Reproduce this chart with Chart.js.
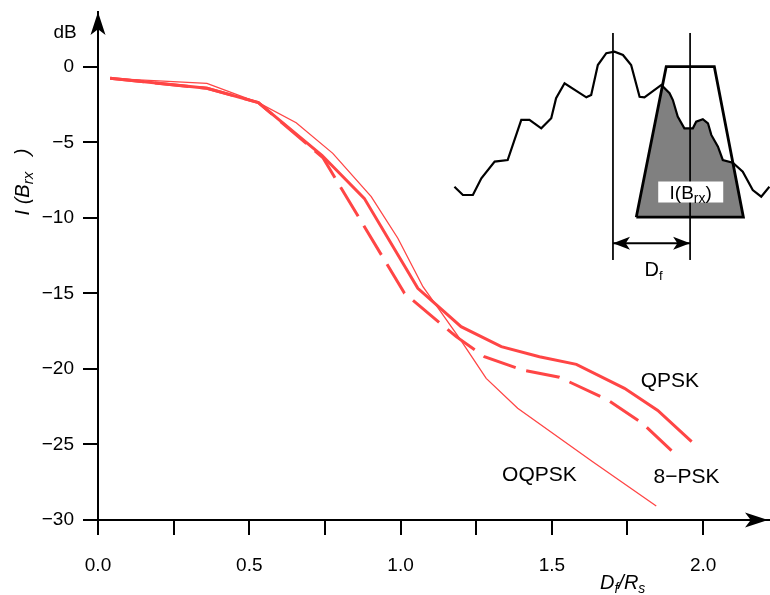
<!DOCTYPE html>
<html>
<head>
<meta charset="utf-8">
<script src="https://cdn.jsdelivr.net/npm/chart.js@4.4.1/dist/chart.umd.min.js"></script>
<style>
  html, body { margin: 0; padding: 0; background: #fff; }
  #wrap { width: 770px; height: 595px; position: relative; }
</style>
</head>
<body>
<div id="wrap"><canvas id="chart"></canvas></div>
<script>
// Interference level I(Brx) in dB against carrier spacing Df/Rs
const qpskX = [0.04, 0.36, 0.53, 0.74, 0.88, 1.057, 1.20, 1.333, 1.459, 1.581, 1.74, 1.85, 1.962];
const qpskY = [-0.75, -1.41, -2.36, -5.85, -8.7, -14.66, -17.2, -18.52, -19.19, -19.69, -21.28, -22.75, -24.81];
const psk8X = [0.04, 0.36, 0.53, 0.743, 1.013, 1.184, 1.277, 1.404, 1.525, 1.685, 1.80, 1.911];
const psk8Y = [-0.75, -1.41, -2.36, -6.0, -14.99, -17.86, -19.18, -20.07, -20.55, -22.05, -23.6, -25.7];
const oqpskX = [0.04, 0.36, 0.53, 0.655, 0.776, 0.903, 0.991, 1.074, 1.195, 1.283, 1.387, 1.635, 1.845];
const oqpskY = [-0.75, -1.08, -2.36, -3.69, -5.72, -8.59, -11.34, -14.55, -17.97, -20.62, -22.6, -26.14, -29.07];

const xLabelValues = [0, 0.5, 1.0, 1.5, 2.0];
const yTickStep = 5;
const xMax = 2.221;
const yMax = 3.64;

// inset sketch: neighbour spectrum, receive filter and shaded overlap
const specX = [1.178, 1.206, 1.239, 1.267, 1.311, 1.354, 1.399, 1.426, 1.465, 1.498, 1.514, 1.542,
  1.614, 1.630, 1.652, 1.680, 1.707, 1.735, 1.762, 1.790, 1.806, 1.862, 1.889, 1.900, 1.916, 1.938,
  1.966, 1.977, 1.999, 2.016, 2.027, 2.049, 2.065, 2.098, 2.131, 2.164, 2.192, 2.219];
const specY = [-7.93, -8.48, -8.48, -7.37, -6.27, -6.16, -3.51, -3.51, -4.06, -3.40, -2.07, -1.08,
  -2.01, -1.85, 0.13, 0.91, 1.01, 0.79, 0.13, -1.97, -2.01, -1.19, -1.74, -2.19, -3.29, -4.06,
  -4.06, -3.62, -3.46, -3.73, -4.50, -5.28, -6.16, -6.34, -6.93, -8.15, -8.59, -7.93];
const filterX = [1.779, 1.878, 2.037, 2.133, 1.779];
const filterY = [-9.95, 0.02, 0.02, -9.95, -9.95];
const shadeX = [1.779, 1.866, 1.889, 1.900, 1.916, 1.938, 1.966, 1.977, 1.999, 2.016, 2.027, 2.049, 2.065, 2.098, 2.133, 1.779];
const shadeY = [-9.95, -1.19, -1.74, -2.19, -3.29, -4.06, -4.06, -3.62, -3.46, -3.73, -4.50, -5.28, -6.16, -6.34, -9.95, -9.95];
const markX = [1.702, 1.957];
const markTop = 2.25;
const markBottom = -12.78;
const spacingArrowY = -11.68;

const red = '#ff4545';
const toPoints = (xs, ys) => xs.map((x, i) => ({ x: x, y: ys[i] }));

const FONT = '"Liberation Sans", Arial, Helvetica, sans-serif';

// text with subscripts: parts = [{t, size, dy}]
function drawRich(ctx, parts, x, y, align, italic) {
  const style = italic ? 'italic ' : '';
  let total = 0;
  parts.forEach(p => {
    ctx.font = style + p.size + 'px ' + FONT;
    p.w = ctx.measureText(p.t).width;
    total += p.w;
  });
  let cx = align === 'center' ? x - total / 2 : (align === 'right' ? x - total : x);
  ctx.textAlign = 'left';
  ctx.textBaseline = 'alphabetic';
  parts.forEach(p => {
    ctx.font = style + p.size + 'px ' + FONT;
    ctx.fillText(p.t, cx, y + (p.dy || 0));
    cx += p.w;
  });
  return total;
}

function arrowHead(ctx, tx, ty, dir, len, half) {
  // dir: unit vector pointing toward the tip
  const bx = tx - dir[0] * len, by = ty - dir[1] * len;
  const nx = -dir[1], ny = dir[0];
  const notch = len * 0.25;
  ctx.beginPath();
  ctx.moveTo(tx, ty);
  ctx.lineTo(bx + nx * half, by + ny * half);
  ctx.lineTo(bx + dir[0] * notch, by + dir[1] * notch);
  ctx.lineTo(bx - nx * half, by - ny * half);
  ctx.closePath();
  ctx.fill();
}

const annotations = {
  id: 'annotations',
  afterDatasetsDraw(chart) {
    const ctx = chart.ctx;
    const xs = chart.scales.x, ys = chart.scales.y;
    const area = chart.chartArea;
    ctx.save();
    ctx.fillStyle = '#000';

    // axis arrows
    arrowHead(ctx, area.left, area.top, [0, -1], 23, 7.5);
    arrowHead(ctx, area.right - 2, area.bottom, [1, 0], 23, 7.5);

    // spacing arrow in the inset
    const ay = ys.getPixelForValue(spacingArrowY);
    const a0 = xs.getPixelForValue(markX[0]), a1 = xs.getPixelForValue(markX[1]);
    arrowHead(ctx, a0, ay, [-1, 0], 17, 6.5);
    arrowHead(ctx, a1, ay, [1, 0], 17, 6.5);
    drawRich(ctx, [{ t: 'D', size: 20 }, { t: 'f', size: 13, dy: 4 }], (a0 + a1) / 2 + 2, ay + 33, 'center', false);

    // label box inside the shaded area
    const bx = xs.getPixelForValue(1.959), by = ys.getPixelForValue(-8.28);
    ctx.fillStyle = '#fff';
    ctx.fillRect(bx - 32.5, by - 10.5, 65, 21);
    ctx.fillStyle = '#000';
    drawRich(ctx, [{ t: 'I(B', size: 19 }, { t: 'rx', size: 14, dy: 4 }, { t: ')', size: 19 }], bx, by + 7, 'center', false);

    // series names
    ctx.font = '21px ' + FONT;
    ctx.textAlign = 'center';
    ctx.textBaseline = 'alphabetic';
    ctx.fillText('QPSK', xs.getPixelForValue(1.89), ys.getPixelForValue(-21.2));
    ctx.fillText('8\u2212PSK', xs.getPixelForValue(1.945), ys.getPixelForValue(-27.55));
    ctx.fillText('OQPSK', xs.getPixelForValue(1.459), ys.getPixelForValue(-27.4));

    // axis titles
    ctx.font = '19px ' + FONT;
    ctx.textAlign = 'center';
    ctx.fillText('dB', area.left - 33, area.top + 26);
    drawRich(ctx, [{ t: 'D', size: 20 }, { t: 'f', size: 14, dy: 4 }, { t: '/R', size: 20 }, { t: 's', size: 14, dy: 4 }],
      area.left + 502, area.bottom + 69, 'left', true);

    ctx.translate(29, 182);
    ctx.rotate(-Math.PI / 2);
    drawRich(ctx, [{ t: 'I (B', size: 20 }, { t: 'rx', size: 15, dy: 4 }, { t: '   )', size: 20 }], 0, 0, 'center', true);
    ctx.restore();
  }
};

const axisGrid = { drawOnChartArea: false, drawTicks: true, tickLength: 15, color: '#000', lineWidth: 2 };
const axisBorder = { display: true, color: '#000', width: 2 };

new Chart(document.getElementById('chart'), {
  type: 'line',
  data: {
    datasets: [
      { label: 'QPSK', data: toPoints(qpskX, qpskY), borderColor: red, borderWidth: 3 },
      { label: '8-PSK', data: toPoints(psk8X, psk8Y), borderColor: red, borderWidth: 3, borderDash: [34, 11] },
      { label: 'OQPSK', data: toPoints(oqpskX, oqpskY), borderColor: red, borderWidth: 1.3 },
      { label: 'filter', data: toPoints(filterX, filterY), borderColor: '#000', borderWidth: 2.8 },
      { label: 'spectrum', data: toPoints(specX, specY), borderColor: '#000', borderWidth: 2.2 },
      { label: 'spacing', data: toPoints(markX, [spacingArrowY, spacingArrowY]), borderColor: '#000', borderWidth: 2 },
      { label: 'mark 1', data: toPoints([markX[0], markX[0]], [markTop, markBottom]), borderColor: '#000', borderWidth: 1 },
      { label: 'mark 2', data: toPoints([markX[1], markX[1]], [markTop, markBottom]), borderColor: '#000', borderWidth: 1 },
      { label: 'overlap', data: toPoints(shadeX, shadeY), borderWidth: 0, borderColor: 'rgba(0,0,0,0)', backgroundColor: '#808080', fill: 'shape' }
    ]
  },
  options: {
    responsive: true,
    maintainAspectRatio: false,
    animation: false,
    events: [],
    layout: { padding: { top: 12, right: 0, bottom: 0, left: 0 } },
    elements: { point: { radius: 0 }, line: { tension: 0, borderCapStyle: 'butt', borderJoinStyle: 'miter' } },
    plugins: { legend: { display: false }, tooltip: { enabled: false } },
    scales: {
      x: {
        type: 'linear',
        min: 0,
        max: xMax,
        afterFit: s => { s.height = 75; },
        grid: axisGrid,
        border: axisBorder,
        ticks: {
          stepSize: 0.25,
          includeBounds: false,
          autoSkip: false,
          maxRotation: 0,
          padding: 19,
          color: '#000',
          font: { family: FONT, size: 19 },
          callback: v => xLabelValues.some(l => Math.abs(l - v) < 1e-6) ? v.toFixed(1) : ''
        }
      },
      y: {
        type: 'linear',
        min: -30,
        max: yMax,
        afterFit: s => { s.width = 98; s.paddingTop = 0; s.paddingBottom = 0; },
        grid: axisGrid,
        border: axisBorder,
        ticks: {
          stepSize: yTickStep,
          includeBounds: false,
          padding: 9,
          color: '#000',
          font: { family: FONT, size: 19 },
          callback: v => v === 0 ? '0' : '\u2212' + Math.abs(v)
        }
      }
    }
  },
  plugins: [annotations]
});
</script>
</body>
</html>
